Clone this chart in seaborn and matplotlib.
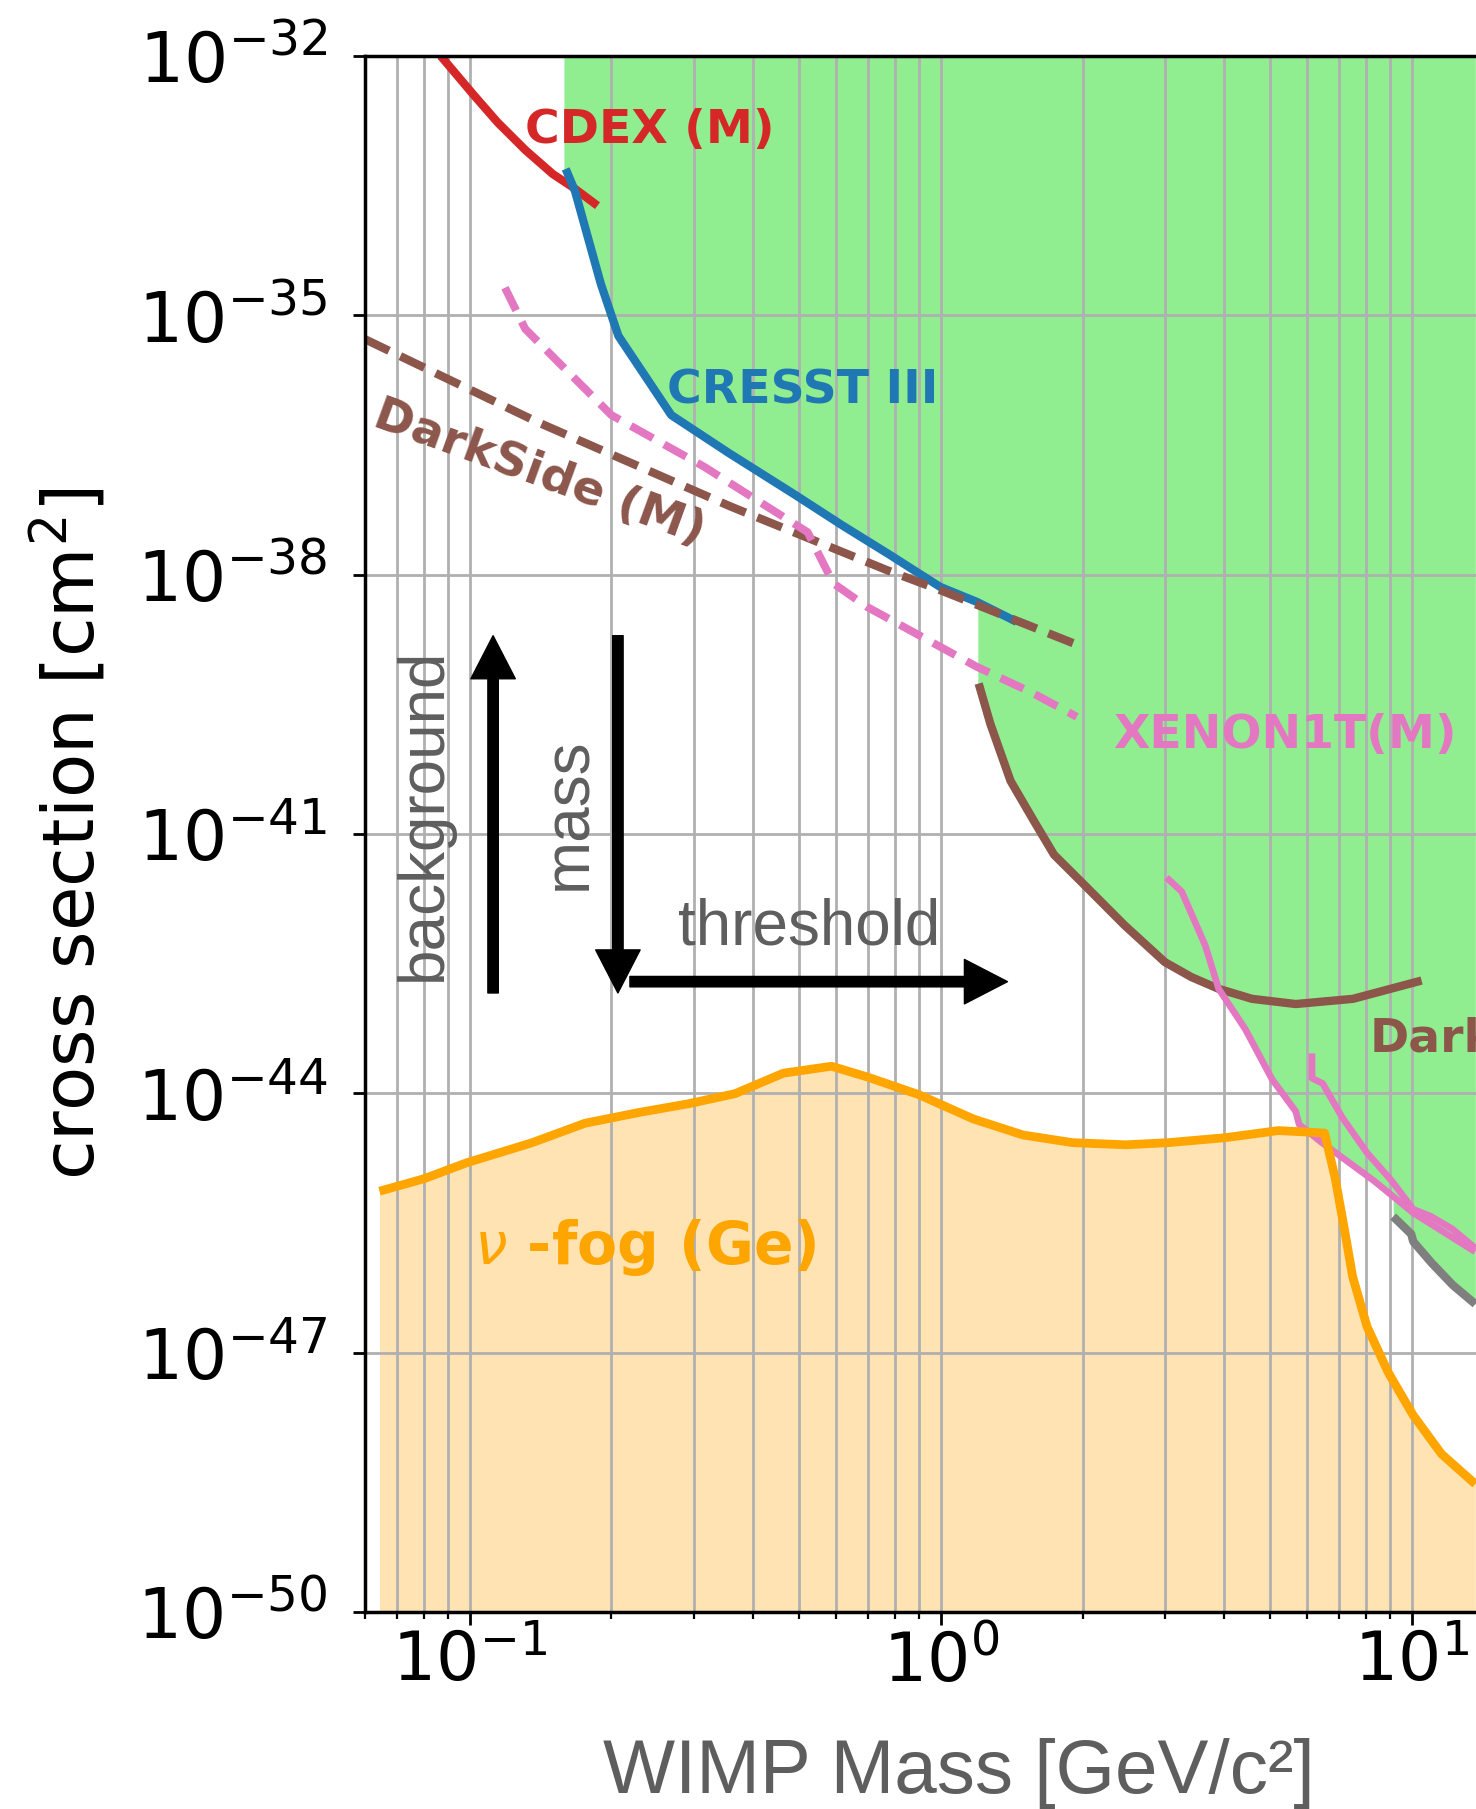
import numpy as np
import matplotlib
matplotlib.use("Agg")
import matplotlib.pyplot as plt
from matplotlib.ticker import NullLocator, NullFormatter
import seaborn as sns

# ---------------------------------------------------------------------------
# Exclusion limits, WIMP mass [GeV/c^2] vs. spin-independent cross section [cm^2]
# ---------------------------------------------------------------------------
cdex_mass = [0.0869, 0.102, 0.1147, 0.1313, 0.1502, 0.1662, 0.1869]
cdex_xsec = [1.0e-32, 3.56e-33, 1.71e-33, 8.21e-34, 4.32e-34, 3.0e-34, 1.86e-34]

cresst_mass = [0.160, 0.1675, 0.178, 0.190, 0.207, 0.268, 0.355, 0.489, 0.618,
               0.781, 0.997, 1.193, 1.45]
cresst_xsec = [4.95e-34, 2.73e-34, 8.28e-35, 2.31e-35, 5.79e-36, 7.03e-37,
               2.56e-37, 8.51e-38, 3.73e-38, 1.69e-38, 7.24e-39, 4.85e-39, 2.85e-39]

darkside_m_mass = [0.06, 0.1392, 0.3575, 0.769, 0.997, 1.913]
darkside_m_xsec = [5.3e-36, 5.85e-37, 6.18e-38, 1.13e-38, 6.64e-39, 1.61e-39]

xenon_m_mass = [0.1189, 0.1313, 0.1607, 0.200, 0.315, 0.522, 0.592, 0.697,
                1.193, 1.573, 1.945]
xenon_m_xsec = [2.09e-35, 6.97e-36, 2.31e-36, 7.03e-37, 1.77e-37, 3.10e-38,
                7.94e-39, 4.26e-39, 8.61e-40, 4.24e-40, 2.27e-40]

darkside_mass = [1.204, 1.275, 1.407, 1.578, 1.74, 2.018, 2.455, 2.991, 3.407,
                 3.89, 4.58, 5.67, 7.50, 10.49]
darkside_xsec = [5.51e-40, 1.88e-40, 4.12e-41, 1.41e-41, 5.77e-42, 2.58e-42,
                 8.83e-43, 3.30e-43, 2.21e-43, 1.62e-43, 1.24e-43, 1.08e-43,
                 1.24e-43, 2.02e-43]

xenon_mass = [3.016, 3.248, 3.643, 3.89, 4.43, 5.053, 5.67, 5.765, 6.41, 8.32,
              10.07, 13.63]
xenon_xsec = [3.14e-42, 2.16e-42, 5.16e-43, 1.62e-43, 5.55e-44, 1.45e-44,
              6.19e-45, 4.37e-45, 2.75e-45, 9.69e-46, 4.14e-46, 1.47e-46]

xenon2_mass = [6.14, 6.14, 6.47, 7.11, 8.03, 9.07, 10.07, 10.97, 12.18, 13.64]
xenon2_xsec = [2.90e-44, 1.50e-44, 1.30e-44, 5.31e-45, 2.06e-45, 9.69e-46,
               4.56e-46, 3.78e-46, 2.71e-46, 1.62e-46]

grey_mass = [9.13, 9.97, 10.07, 11.02, 12.22, 13.64]
grey_xsec = [3.76e-46, 2.36e-46, 1.93e-46, 1.09e-46, 6.05e-47, 3.65e-47]

# neutrino fog for a germanium target
fog_mass = [0.0644, 0.0801, 0.0988, 0.1353, 0.1758, 0.2285, 0.2917, 0.366,
            0.4632, 0.5864, 0.698, 0.8995, 1.173, 1.495, 1.905, 2.472, 3.042,
            4.017, 5.21, 5.98, 6.53, 6.87, 7.18, 7.49, 8.03, 8.91, 10.06,
            11.56, 13.64]
fog_xsec = [7.38e-46, 1.03e-45, 1.58e-45, 2.67e-45, 4.51e-45, 6.00e-45,
            7.59e-45, 9.91e-45, 1.71e-44, 2.06e-44, 1.55e-44, 9.64e-45,
            5.06e-45, 3.30e-45, 2.69e-45, 2.54e-45, 2.69e-45, 3.07e-45,
            3.71e-45, 3.57e-45, 3.47e-45, 1.07e-45, 2.84e-46, 7.57e-47,
            2.02e-47, 5.91e-48, 1.90e-48, 6.73e-49, 3.02e-49]

# lower edge of the combined excluded region
excluded_mass = [0.1586, 0.1675, 0.178, 0.190, 0.207, 0.268, 0.355, 0.489,
                 0.618, 0.781, 0.997, 1.193, 1.199, 1.199, 1.275, 1.407, 1.578,
                 1.74, 2.018, 2.455, 2.991, 3.407, 3.89, 4.43, 5.053, 5.67,
                 5.765, 6.41, 8.32, 9.13, 9.13, 9.97, 10.07, 11.02, 12.22, 13.64]
excluded_floor = [4.95e-34, 2.73e-34, 8.28e-35, 2.31e-35, 5.79e-36, 7.03e-37,
                  2.56e-37, 8.51e-38, 3.73e-38, 1.69e-38, 7.24e-39, 4.85e-39,
                  4.7e-39, 5.51e-40, 1.88e-40, 4.12e-41, 1.41e-41, 5.77e-42,
                  2.58e-42, 8.83e-43, 3.30e-43, 2.21e-43, 1.62e-43, 5.55e-44,
                  1.45e-44, 6.19e-45, 4.37e-45, 2.75e-45, 9.69e-46, 6.4e-46,
                  3.76e-46, 2.36e-46, 1.93e-46, 1.09e-46, 6.05e-47, 3.65e-47]

y_ticks = [1e-50, 1e-47, 1e-44, 1e-41, 1e-38, 1e-35, 1e-32]

# ---------------------------------------------------------------------------
sns.set_style("ticks", rc={"axes.edgecolor": "black", "xtick.color": "black",
                           "ytick.color": "black", "text.color": "black",
                           "axes.labelcolor": "black"})
plt.rcParams["font.family"] = ["DejaVu Sans"]
plt.rcParams["mathtext.fontset"] = "dejavusans"

fig = plt.figure(figsize=(14.76, 18.09), dpi=100)
ax = fig.add_axes([0.2473, 0.1089, 0.8053, 0.8601])
ax.set_xscale("log")
ax.set_yscale("log")
ax.set_xlim(0.06, 20)
ax.set_ylim(1e-50, 1e-32)

# shaded regions
ax.fill_between(excluded_mass, excluded_floor, 1e-32, color="lightgreen",
                lw=0, zorder=1)
ax.fill_between(fog_mass, fog_xsec, 1e-50, color="orange", alpha=0.3,
                lw=0, zorder=1)

# stroke widths in points
LW = 6.0


def draw(mass, xsec, color, lw, dashes=None):
    data = {"mass": mass, "xsec": xsec}
    sns.lineplot(data=data, x="mass", y="xsec", ax=ax, color=color,
                 linewidth=lw, sort=False, estimator=None, errorbar=None)
    line = ax.get_lines()[-1]
    line.set_linewidth(lw)
    line.set_solid_capstyle("butt")
    if dashes is not None:
        line.set_dashes(dashes)


draw(cdex_mass, cdex_xsec, "tab:red", LW)
draw(cresst_mass, cresst_xsec, "tab:blue", LW)
draw(darkside_m_mass, darkside_m_xsec, "tab:brown", LW, dashes=(3.2, 1.5))
draw(xenon_m_mass, xenon_m_xsec, "tab:pink", LW * 0.95, dashes=(3.2, 1.6))
draw(darkside_mass, darkside_xsec, "tab:brown", LW)
draw(xenon_mass, xenon_xsec, "tab:pink", LW * 0.8)
draw(xenon2_mass, xenon2_xsec, "tab:pink", LW * 0.8)
draw(grey_mass, grey_xsec, "tab:gray", LW)
draw(fog_mass, fog_xsec, "orange", LW * 1.05)

# experiment labels
lab = dict(fontsize=34, fontweight="bold", ha="left", va="baseline")
ax.text(0.1313, 9.84e-34, "CDEX (M)", color="tab:red", **lab)
ax.text(0.2623, 9.6e-37, "CRESST III", color="tab:blue", **lab)
ax.text(2.319, 9.86e-41, "XENON1T(M)", color="tab:pink", **lab)
ax.text(8.13, 3.09e-44, "DarkSide-50", color="tab:brown", **lab)
ax.text(0.1404, 1.48e-37, "DarkSide (M)", color="tab:brown", fontsize=34,
        fontweight="bold", rotation=-20, rotation_mode="anchor",
        ha="center", va="center")
ax.text(0.1023, 1.05e-46, r"$\nu$ -fog (Ge)", color="orange", fontsize=42,
        fontweight="bold", ha="left", va="baseline")

# sensitivity arrows
grey = "#5e5e5e"
arrow = dict(facecolor="black", edgecolor="black", width=7.5, headwidth=32,
             headlength=31, shrink=0)
ax.annotate("", xy=(0.1122, 1.97e-39), xytext=(0.1122, 1.45e-43),
            arrowprops=arrow)
ax.annotate("", xy=(0.2065, 1.45e-43), xytext=(0.2065, 1.97e-39),
            arrowprops=arrow)
ax.annotate("", xy=(1.386, 1.96e-43), xytext=(0.219, 1.96e-43),
            arrowprops=arrow)
txt = dict(fontsize=46, color=grey, family=["Liberation Sans", "DejaVu Sans"])
ax.text(0.08, 1.71e-41, "background", rotation=90, ha="center", va="center",
        **txt)
ax.text(0.163, 1.71e-41, "mass", rotation=90, ha="center", va="center", **txt)
ax.text(0.527, 5.3e-43, "threshold", ha="center", va="baseline", **txt)

# axes, ticks and grid
ax.set_yticks(y_ticks)
ax.yaxis.set_minor_locator(NullLocator())
ax.xaxis.set_minor_formatter(NullFormatter())
ax.tick_params(axis="both", which="major", labelsize=49, length=9, width=2)
ax.tick_params(axis="y", which="major", labelsize=50, pad=18)
ax.tick_params(axis="x", which="minor", length=5, width=1.6)
ax.set_axisbelow("line")
ax.grid(True, which="major", axis="both", color="#b0b0b0", lw=2)
ax.grid(True, which="minor", axis="x", color="#b0b0b0", lw=2)
for s in ax.spines.values():
    s.set_linewidth(2.5)

ax.set_ylabel("cross section [cm$^2$]", fontsize=52)
ax.yaxis.set_label_coords(-0.2145, 0.5)
ax.set_xlabel("WIMP Mass [GeV/c²]", fontsize=55, color=grey,
              family=["Liberation Sans", "DejaVu Sans"], labelpad=30)

fig.savefig("out.png", dpi=100)
